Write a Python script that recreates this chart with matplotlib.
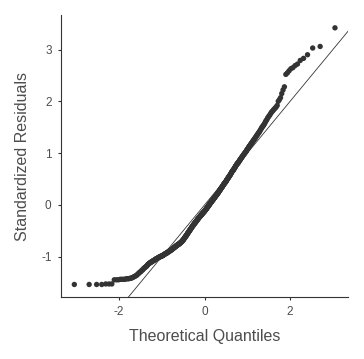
import matplotlib
matplotlib.use("Agg")
import matplotlib.pyplot as plt
from statistics import NormalDist

# Sorted standardized residuals (lowest to highest)
residuals = [
    -1.54, -1.54, -1.54, -1.54, -1.53, -1.53, -1.53,
    -1.45, -1.45, -1.45, -1.44, -1.44, -1.44, -1.44, -1.43, -1.43, -1.43, -1.42, -1.42,
    -1.41, -1.40, -1.39, -1.38, -1.37,
    -1.36, -1.34, -1.33, -1.31, -1.30,
    -1.29, -1.27, -1.26, -1.25, -1.23, -1.22,
    -1.21, -1.20, -1.19, -1.18, -1.16, -1.15, -1.14,
    -1.13, -1.12, -1.12, -1.11, -1.10, -1.10, -1.09, -1.08,
    -1.08, -1.07, -1.07, -1.06, -1.05, -1.05, -1.04, -1.04, -1.03,
    -1.03, -1.02, -1.02, -1.01, -1.01, -1.00, -1.00, -1.00, -0.99, -0.99,
    -0.99, -0.98, -0.98, -0.97, -0.97, -0.96, -0.96, -0.95, -0.95, -0.94, -0.94,
    -0.94, -0.93, -0.93, -0.92, -0.92, -0.91, -0.91, -0.90, -0.90, -0.89, -0.89, -0.89,
    -0.88, -0.88, -0.87, -0.87, -0.86, -0.86, -0.85, -0.85, -0.84, -0.84, -0.83, -0.83, -0.82,
    -0.82, -0.81, -0.81, -0.80, -0.80, -0.79, -0.79, -0.78, -0.78, -0.78, -0.77, -0.77, -0.76, -0.76,
    -0.76, -0.75, -0.75, -0.74, -0.74, -0.73, -0.73, -0.72, -0.72, -0.71, -0.71, -0.70, -0.69, -0.69, -0.68,
    -0.67, -0.67, -0.66, -0.65, -0.64, -0.64, -0.63, -0.62, -0.61, -0.61, -0.60, -0.59, -0.58, -0.58, -0.57, -0.56,
    -0.55, -0.54, -0.54, -0.53, -0.52, -0.51, -0.51, -0.50, -0.49, -0.48, -0.48, -0.47, -0.46, -0.45, -0.45, -0.44,
    -0.43, -0.42, -0.42, -0.41, -0.40, -0.40, -0.39, -0.38, -0.38, -0.37, -0.36, -0.36, -0.35, -0.34, -0.34, -0.33, -0.33,
    -0.32, -0.31, -0.31, -0.30, -0.29, -0.29, -0.28, -0.27, -0.27, -0.26, -0.25, -0.25, -0.24, -0.24, -0.23, -0.23, -0.22,
    -0.21, -0.21, -0.20, -0.20, -0.19, -0.19, -0.18, -0.18, -0.17, -0.16, -0.16, -0.15, -0.15, -0.14, -0.14, -0.13, -0.13, -0.12,
    -0.11, -0.11, -0.10, -0.10, -0.09, -0.08, -0.08, -0.07, -0.06, -0.06, -0.05, -0.04, -0.04, -0.03, -0.02, -0.02, -0.01,
    0.00, 0.00, 0.01, 0.02, 0.02, 0.03, 0.04, 0.04, 0.05, 0.06, 0.06, 0.07, 0.08, 0.08, 0.09, 0.09, 0.10,
    0.11, 0.11, 0.12, 0.13, 0.13, 0.14, 0.15, 0.15, 0.16, 0.17, 0.17, 0.18, 0.19, 0.19, 0.20, 0.20, 0.21,
    0.22, 0.23, 0.23, 0.24, 0.25, 0.26, 0.26, 0.27, 0.28, 0.29, 0.29, 0.30, 0.31, 0.32, 0.32, 0.33,
    0.34, 0.35, 0.35, 0.36, 0.37, 0.38, 0.39, 0.39, 0.40, 0.41, 0.42, 0.42, 0.43, 0.44, 0.44, 0.45,
    0.46, 0.47, 0.48, 0.49, 0.50, 0.50, 0.51, 0.52, 0.53, 0.54, 0.55, 0.55, 0.56, 0.57, 0.58,
    0.59, 0.60, 0.61, 0.62, 0.63, 0.64, 0.65, 0.66, 0.66, 0.67, 0.68, 0.69, 0.70, 0.71,
    0.72, 0.73, 0.74, 0.75, 0.76, 0.77, 0.78, 0.79, 0.80, 0.80, 0.81, 0.82, 0.83,
    0.84, 0.85, 0.86, 0.87, 0.88, 0.89, 0.90, 0.91, 0.92, 0.93, 0.94, 0.95,
    0.96, 0.97, 0.98, 0.99, 1.00, 1.01, 1.02, 1.03, 1.04, 1.06, 1.07,
    1.08, 1.09, 1.10, 1.12, 1.13, 1.14, 1.15, 1.16, 1.18, 1.19,
    1.20, 1.21, 1.23, 1.24, 1.25, 1.27, 1.28, 1.29, 1.31,
    1.32, 1.34, 1.35, 1.37, 1.38, 1.40, 1.41, 1.43,
    1.45, 1.47, 1.49, 1.51, 1.52, 1.54, 1.56,
    1.58, 1.61, 1.63, 1.65, 1.68, 1.70,
    1.72, 1.74, 1.77, 1.79, 1.81,
    1.83, 1.85, 1.87, 1.89, 1.92,
    2.00, 2.03, 2.07, 2.15, 2.22, 2.28,
    2.52, 2.55, 2.59, 2.63, 2.65, 2.69, 2.72,
    2.79, 2.83, 2.90, 3.03, 3.06, 3.42,
]

x_ticks = [-2, 0, 2]
y_ticks = [-1, 0, 1, 2, 3]
x_title = "Theoretical Quantiles"
y_title = "Standardized Residuals"

res = sorted(residuals)
n = len(res)
nd = NormalDist()
theo = [nd.inv_cdf((i - 0.5) / n) for i in range(1, n + 1)]

plt.rcParams['font.family'] = ['Liberation Sans', 'DejaVu Sans']

fig = plt.figure(figsize=(3.64, 3.59), dpi=100)
ax = fig.add_axes([61.3 / 364, 1 - 297.3 / 359, (348 - 61.3) / 364, (297.3 - 15) / 359])

ax.axline((0, 0), slope=1, color="#333333", lw=0.6, zorder=1)
ax.scatter(theo, res, s=15, color="#333333", edgecolors="none", zorder=2)

xr = max(theo) - min(theo)
yr = max(res) - min(res)
ax.set_xlim(min(theo) - 0.05 * xr, max(theo) + 0.05 * xr)
ax.set_ylim(min(res) - 0.05 * yr, max(res) + 0.05 * yr)

ax.set_xticks(x_ticks)
ax.set_yticks(y_ticks)
ax.set_xticklabels([str(t) for t in x_ticks])
ax.set_yticklabels([str(t) for t in y_ticks])

for s in ["top", "right"]:
    ax.spines[s].set_visible(False)
for s in ["left", "bottom"]:
    ax.spines[s].set_color("#333333")
    ax.spines[s].set_linewidth(0.8)

ax.tick_params(axis="both", direction="out", length=2.5, width=0.8,
               color="#333333", labelcolor="#4d4d4d", labelsize=8.5)
ax.tick_params(axis="x", pad=3.5)
ax.tick_params(axis="y", pad=4.5)

ax.set_xlabel(x_title, fontsize=11.5, color="#4d4d4d")
ax.set_ylabel(y_title, fontsize=11.5, color="#4d4d4d")
ax.xaxis.set_label_coords(0.5, -0.1396)
ax.xaxis.label.set_va("center")
ax.yaxis.set_label_coords(-0.1336, 0.5)
ax.yaxis.label.set_va("center")

fig.savefig("out.png", dpi=100)
